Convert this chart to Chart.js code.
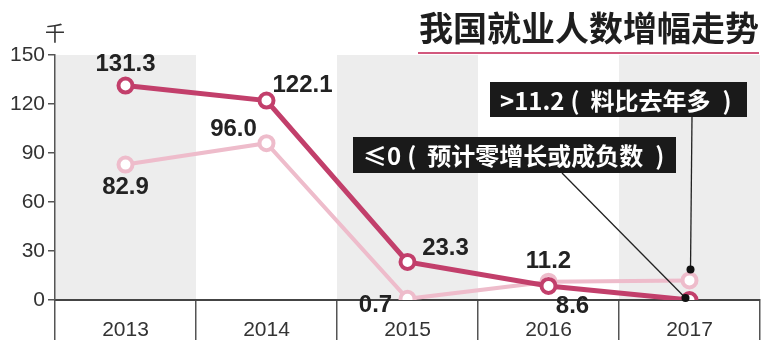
<!DOCTYPE html>
<html><head><meta charset="utf-8">
<script src="https://cdn.jsdelivr.net/npm/chart.js@4"></script>
<style>html,body{margin:0;padding:0;background:#fff}#wrap{width:777px;height:350px;position:relative}</style>
</head><body><div id="wrap"><canvas id="c"></canvas></div>
<script>
// ---- data ----
const categories = ['2013', '2014', '2015', '2016', '2017'];
const seriesDark = [131.3, 122.1, 23.3, 8.6, 0];
const seriesLight = [82.9, 96.0, 0.7, 11.2, 12];
const labelsDark = ['131.3', '122.1', '23.3', '8.6', ''];
const labelsLight = ['82.9', '96.0', '0.7', '11.2', ''];
const yTicks = [0, 30, 60, 90, 120, 150];
const shadedCategories = ['2013', '2015', '2017'];
const titleText = '我国就业人数增幅走势';
const unitText = '千';
const noteHigh = ['>11.2', '(', '料比去年多', ')'];
const noteLow = ['≤0', '(', '预计零增长或成负数', ')'];

// ---- styles ----
const DARK = '#c23f6b';
const LIGHT = '#eebccb';
const CJK = '"Noto Sans CJK SC", "Noto Sans", sans-serif';
const NUM = '"Liberation Sans", Arial, sans-serif';

// label offsets (dx, dy) from each point
const darkLabelOffsets = [[0, -21], [36, -15], [38, -14], [24, 20], [0, 0]];
const lightLabelOffsets = [[0, 23], [-33, -14], [-32, 7], [0, -20], [0, 0]];

const decor = {
  id: 'decor',
  beforeDraw(chart) {
    const ctx = chart.ctx, x = chart.scales.x, y = chart.scales.y;
    const half = (x.getPixelForValue(1) - x.getPixelForValue(0)) / 2;
    ctx.save();
    ctx.fillStyle = '#ededed';
    shadedCategories.forEach(c => {
      const i = categories.indexOf(c);
      const cx = x.getPixelForValue(i);
      ctx.fillRect(cx - half, y.getPixelForValue(150), half * 2, y.getPixelForValue(0) - y.getPixelForValue(150));
    });
    ctx.restore();
  },
  afterDatasetsDraw(chart) {
    const ctx = chart.ctx;
    const m0 = chart.getDatasetMeta(0).data; // dark
    const m1 = chart.getDatasetMeta(1).data; // light
    ctx.save();
    // data labels
    ctx.fillStyle = '#222';
    ctx.font = 'bold 24px ' + NUM;
    ctx.textAlign = 'center';
    ctx.textBaseline = 'middle';
    labelsDark.forEach((t, i) => { if (t) ctx.fillText(t, m0[i].x + darkLabelOffsets[i][0], m0[i].y + darkLabelOffsets[i][1]); });
    labelsLight.forEach((t, i) => { if (t) ctx.fillText(t, m1[i].x + lightLabelOffsets[i][0], m1[i].y + lightLabelOffsets[i][1]); });

    // title
    ctx.font = 'bold 34px ' + CJK;
    ctx.textAlign = 'right';
    ctx.fillStyle = '#1e1e1e';
    ctx.fillText(titleText, 759, 28);
    ctx.strokeStyle = '#d2587d';
    ctx.lineWidth = 2;
    ctx.beginPath(); ctx.moveTo(418, 53); ctx.lineTo(759, 53); ctx.stroke();

    // unit
    ctx.font = '20px ' + CJK;
    ctx.textAlign = 'center';
    ctx.fillStyle = '#333';
    ctx.fillText(unitText, 55, 33);

    // leader lines
    const pHigh = m1[4], pLow = m0[4];
    const dotHigh = {x: pHigh.x + 1, y: pHigh.y - 11};
    const dotLow = {x: pLow.x - 4, y: pLow.y - 2};
    ctx.strokeStyle = '#222';
    ctx.lineWidth = 1.3;
    ctx.beginPath(); ctx.moveTo(692, 117); ctx.lineTo(dotHigh.x, dotHigh.y); ctx.stroke();
    ctx.beginPath(); ctx.moveTo(562, 173); ctx.lineTo(dotLow.x, dotLow.y); ctx.stroke();
    ctx.fillStyle = '#111';
    [dotHigh, dotLow].forEach(d => { ctx.beginPath(); ctx.arc(d.x, d.y, 4, 0, Math.PI * 2); ctx.fill(); });

    // boxes
    const box = (parts, x0, y0, w, h) => {
      ctx.fillStyle = '#1a1a1a';
      ctx.fillRect(x0, y0, w, h);
      ctx.fillStyle = '#fff';
      ctx.font = 'bold 24px ' + CJK;
      ctx.textAlign = 'left';
      ctx.textBaseline = 'middle';
      const gaps = [6, 11, 12];
      let cx = x0 + 10;
      const cy = y0 + h / 2 + 1;
      parts.forEach((p, i) => {
        ctx.fillText(p, cx, cy);
        cx += ctx.measureText(p).width + (gaps[i] || 0);
      });
    };
    box(noteHigh, 490, 82, 257, 35);
    box(noteLow, 353, 137, 323, 36);
    ctx.restore();
  }
};

new Chart(document.getElementById('c'), {
  type: 'line',
  data: {
    labels: categories,
    datasets: [
      { data: seriesDark, borderColor: DARK, borderWidth: 5, pointRadius: 7, pointBorderWidth: 4,
        pointBackgroundColor: '#fff', pointBorderColor: DARK, tension: 0, order: 0 },
      { data: seriesLight, borderColor: LIGHT, borderWidth: 4, pointRadius: 7, pointBorderWidth: 4,
        pointBackgroundColor: '#fff', pointBorderColor: LIGHT, tension: 0, order: 1 }
    ]
  },
  options: {
    responsive: true, maintainAspectRatio: false, animation: false,
    devicePixelRatio: 1,
    layout: { padding: { top: 55, right: 17, left: 0, bottom: 0 } },
    plugins: { legend: { display: false }, tooltip: { enabled: false } },
    scales: {
      x: {
        offset: true,
        grid: { offset: true, drawOnChartArea: false, tickLength: 40, color: '#555', lineWidth: 1.5 },
        border: { display: true, color: '#444', width: 2 },
        ticks: { padding: -22, color: '#333', font: { family: NUM, size: 21 } },
        afterFit(s) { s.height = 50; }
      },
      y: {
        min: 0, max: 150,
        afterBuildTicks(s) { s.ticks = yTicks.map(v => ({ value: v })); },
        grid: { drawOnChartArea: false, tickLength: 7, color: '#555', lineWidth: 1.5 },
        border: { display: true, color: '#555', width: 1.5 },
        ticks: { padding: 3, color: '#333', font: { family: NUM, size: 21 } },
        afterFit(s) { s.width = 55; }
      }
    }
  },
  plugins: [decor]
});
</script>
</body></html>
